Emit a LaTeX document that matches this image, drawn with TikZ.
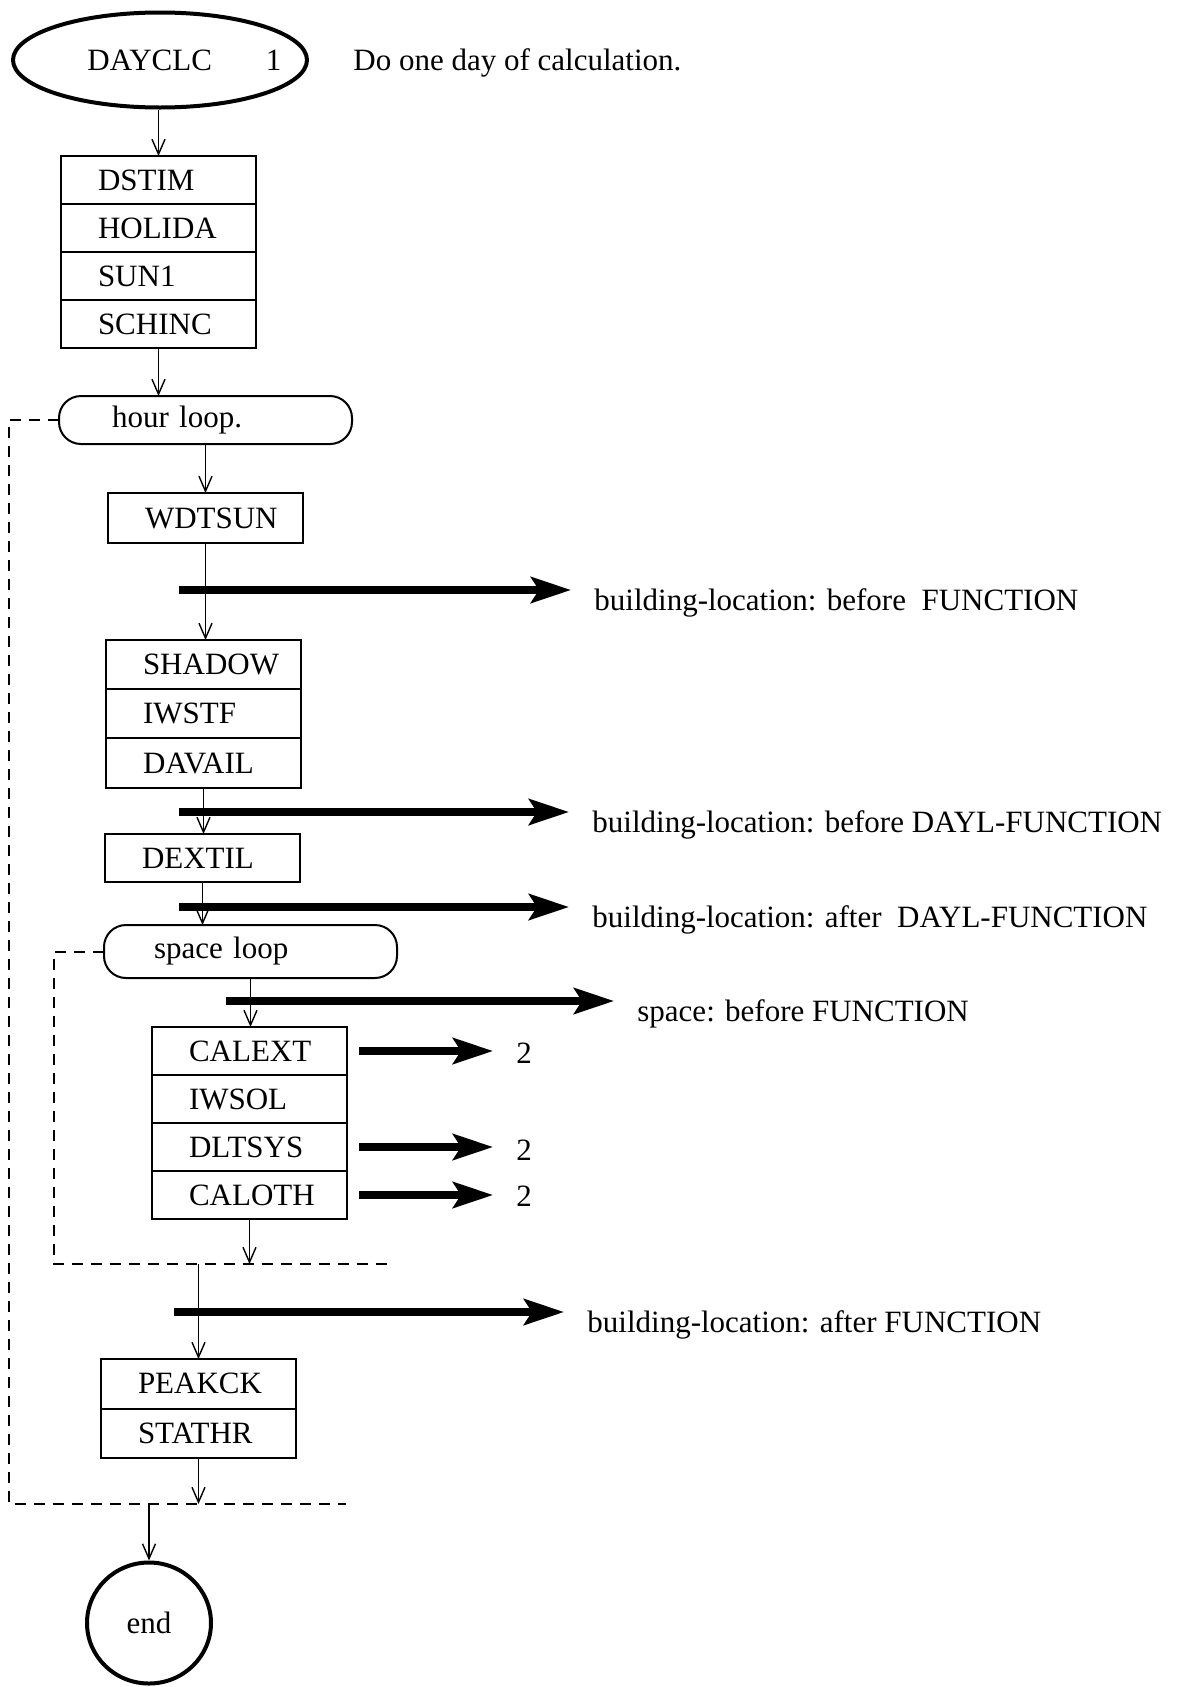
\documentclass[tikz,border=0pt]{standalone}
\usepackage{fontspec}
\setmainfont{Liberation Serif}
\usetikzlibrary{arrows.meta,shapes.geometric}
\begin{document}
\begin{tikzpicture}[x=0.5pt,y=-0.5pt,
  every node/.style={font=\fontsize{15.5}{18}\selectfont},
  cell/.style={draw, line width=1pt, anchor=north west, minimum height=24pt,
    text width=60.5pt, inner xsep=18.5pt, inner ysep=0pt, outer sep=0pt, align=left},
  tallcell/.style={cell, minimum height=24.6pt},
  loopbox/.style={draw, line width=1pt, anchor=north west, rounded corners=11pt,
    inner ysep=0pt, outer sep=0pt, align=left},
  termnode/.style={draw, ellipse, line width=2pt, inner sep=0pt},
  lbl/.style={anchor=base west, inner sep=0pt},
  flow/.style={line width=0.7pt, -{Straight Barb[length=7.5pt,width=6.5pt]}},
  bigarrow/.style={line width=3.6pt, -{Stealth[length=20pt,width=13pt,inset=4pt]},
    shorten >=11.5pt},
  dashline/.style={line width=1pt, dash pattern=on 5.5pt off 4pt}
]
\useasboundingbox (0,0) rectangle (1180,1687);

% start
\node[termnode, minimum width=147pt, minimum height=47.5pt] (dayclc) at (160,60) {};
\node[lbl] (dayclcT) at (87,70) {DAYCLC\hspace{27pt}1};
\node[lbl] (desc) at (353,70) {Do one day of calculation.};

% first box
\node[cell] (dstim) at (61,156) {DSTIM};
\node[cell] (holida) at (dstim.south west) {HOLIDA};
\node[cell] (sun1) at (holida.south west) {SUN1};
\node[cell] (schinc) at (sun1.south west) {SCHINC};

% hour loop
\node[loopbox, minimum height=24pt, text width=93.5pt, inner xsep=26.5pt] (hour) at (59,396) {hour loop.};

\node[tallcell, minimum height=25pt] (wdtsun) at (108,493) {WDTSUN};

\node[tallcell] (shadow) at (106,640) {SHADOW};
\node[tallcell] (iwstf) at (shadow.south west) {IWSTF};
\node[tallcell] (davail) at (iwstf.south west) {DAVAIL};

\node[cell] (dextil) at (105,834) {DEXTIL};

% space loop
\node[loopbox, minimum height=26.5pt, text width=96.5pt, inner xsep=25pt] (space) at (104,925) {space loop};

\node[cell] (calext) at (152,1027) {CALEXT};
\node[cell] (iwsol) at (calext.south west) {IWSOL};
\node[cell] (dltsys) at (iwsol.south west) {DLTSYS};
\node[cell] (caloth) at (dltsys.south west) {CALOTH};

\node[tallcell, minimum height=24.8pt] (peakck) at (101,1359) {PEAKCK};
\node[tallcell, minimum height=24.8pt] (stathr) at (peakck.south west) {STATHR};

\node[termnode, minimum width=62pt, minimum height=60.5pt] (endc) at (149,1623) {end};

% loop dashed lines
\coordinate (hbl) at (9,1504);
\coordinate (hbr) at (346,1504);
\coordinate (sbl) at (54,1264);
\coordinate (sbr) at (394,1264);
\draw[dashline] (hour.west) -| (hbl) -- (hbr);
\draw[dashline] (space.west) -| (sbl) -- (sbr);

% flow arrows
\draw[flow] (dstim.north |- dayclc.south) -- (dstim.north);
\draw[flow] (schinc.south) -- (schinc.south |- hour.north);
\draw[flow] (hour.south) -- (hour.south |- wdtsun.north);
\draw[flow] (wdtsun.south) -- (wdtsun.south |- shadow.north);
\draw[flow] (davail.south) -- (davail.south |- dextil.north);
\draw[flow] (dextil.south) -- (dextil.south |- space.north);
\draw[flow] (space.south) -- (space.south |- calext.north);
\draw[flow] (caloth.south) -- (caloth.south |- sbl);
\draw[flow] (peakck.north |- sbl) -- (peakck.north);
\draw[flow] (stathr.south) -- (stathr.south |- hbl);
\draw[flow] (endc.north |- hbl) -- (endc.north);

% labels for thick arrows
\node[lbl] (l1) at (594,610) {building-location: before\ \ FUNCTION};
\node[lbl] (l2) at (592,832) {building-location: before DAYL-FUNCTION};
\node[lbl] (l3) at (592,927) {building-location: after\ \ DAYL-FUNCTION};
\node[lbl] (l4) at (637,1021) {space: before FUNCTION};
\node[lbl] (l5) at (587,1332) {building-location: after FUNCTION};
\node[lbl] (n1) at (516,1063) {2};
\node[lbl] (n2) at (516,1160) {2};
\node[lbl] (n3) at (516,1206) {2};

\coordinate (t1) at (179,590);
\coordinate (t2) at (179,812);
\coordinate (t3) at (179,907);
\coordinate (t4) at (226,1001);
\coordinate (t5) at (174,1312);

\draw[bigarrow] (t1) -- (t1 -| l1.west);
\draw[bigarrow] (t2) -- (t2 -| l2.west);
\draw[bigarrow] (t3) -- (t3 -| l3.west);
\draw[bigarrow] (t4) -- (t4 -| l4.west);
\draw[bigarrow] (t5) -- (t5 -| l5.west);
\draw[bigarrow, shorten <=6pt] (calext.east) -- (calext.east -| n1.west);
\draw[bigarrow, shorten <=6pt] (dltsys.east) -- (dltsys.east -| n2.west);
\draw[bigarrow, shorten <=6pt] (caloth.east) -- (caloth.east -| n3.west);
\end{tikzpicture}
\end{document}
